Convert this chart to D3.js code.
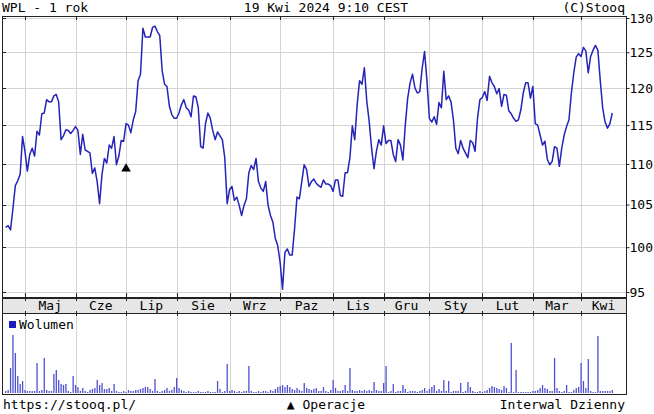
<!DOCTYPE html>
<html>
<head>
<meta charset="utf-8">
<script src="https://cdn.jsdelivr.net/npm/d3@7"></script>
<style>
  body { margin: 0; background: #fff; }
  text { font-family: "DejaVu Sans Mono", monospace; font-size: 13px; fill: #000; }
</style>
</head>
<body>
<div id="app"></div>
<script>
// closing prices, one per trading day, 19 Apr 2023 .. 19 Apr 2024
const prices = [
  102.3, 102.5, 102.0, 104.5, 107.3, 107.9, 108.7, 113.5, 111.6, 109.1,
  111.2, 112.0, 111.0, 114.2, 113.7, 116.5, 116.6, 118.4, 118.1, 118.1,
  118.9, 119.1, 118.1, 113.1, 113.6, 114.4, 114.3, 113.9, 114.3, 114.8,
  114.3, 111.2, 113.8, 111.8, 111.6, 111.4, 108.8, 109.5, 107.8, 105.1,
  108.7, 110.7, 110.1, 112.4, 112.0, 113.5, 109.9, 111.0, 113.0, 112.9,
  115.2, 115.0, 114.0, 115.7, 116.8, 121.0, 121.9, 128.5, 127.2, 127.2,
  127.2, 128.6, 128.8, 128.0, 127.4, 122.4, 120.5, 120.2, 117.5, 116.4,
  115.9, 115.9, 116.6, 117.7, 118.4, 117.3, 117.0, 116.1, 118.9, 118.8,
  117.3, 112.2, 112.0, 115.2, 116.6, 115.9, 114.3, 113.1, 114.1, 113.6,
  113.1, 110.8, 105.1, 106.8, 107.2, 105.5, 105.9, 104.9, 103.7, 104.9,
  105.7, 108.9, 109.8, 109.3, 110.7, 107.8, 107.0, 106.6, 107.8, 104.9,
  103.7, 102.9, 101.0, 100.2, 98.3, 95.3, 99.4, 99.8, 99.1, 99.1,
  102.1, 105.9, 105.7, 107.8, 109.9, 109.3, 107.2, 107.8, 108.1, 107.6,
  107.3, 107.1, 108.0, 107.5, 107.5, 107.3, 106.6, 108.0, 108.0, 106.1,
  106.0, 108.9, 108.9, 110.8, 114.9, 113.1, 117.7, 121.0, 120.5, 122.8,
  118.2, 115.5, 112.0, 109.4, 111.6, 113.1, 112.4, 114.9, 112.6, 113.0,
  113.0, 111.2, 110.3, 113.1, 112.4, 110.5, 115.0, 118.6, 120.7, 121.9,
  120.0, 119.3, 119.5, 122.7, 125.1, 121.0, 115.9, 115.4, 116.1, 115.1,
  118.0, 117.3, 122.3, 118.4, 118.9, 118.1, 115.7, 112.0, 111.3, 113.0,
  112.0, 111.4, 110.8, 113.0, 112.7, 111.6, 115.9, 118.4, 118.7, 119.5,
  118.3, 121.6, 120.7, 120.2, 119.2, 119.9, 117.5, 119.1, 119.0, 116.9,
  116.5, 115.9, 115.5, 115.7, 117.0, 119.3, 120.7, 120.7, 118.6, 120.2,
  115.2, 115.0, 113.7, 112.4, 112.9, 110.6, 109.9, 110.3, 112.2, 112.0,
  109.7, 112.0, 113.7, 114.8, 115.7, 119.3, 122.1, 124.3, 124.8, 124.4,
  125.7, 125.2, 122.1, 124.4, 125.3, 126.0, 125.3, 121.0, 117.3, 115.4,
  114.6, 115.2, 116.6
];

// daily volume (thous. shares)
const volumes = [
  2, 3, 25, 58, 40, 17, 9, 12, 3, 2,
  2, 2, 2, 30, 2, 3, 35, 3, 2, 2,
  19, 23, 13, 9, 8, 9, 2, 1, 17, 8,
  6, 2, 5, 2, 1, 3, 4, 5, 13, 8,
  10, 4, 4, 5, 2, 9, 2, 1, 1, 2,
  1, 3, 2, 2, 3, 3, 4, 5, 6, 6,
  4, 2, 14, 2, 1, 2, 3, 5, 2, 3,
  6, 15, 5, 3, 2, 1, 2, 1, 1, 1,
  2, 1, 1, 1, 2, 1, 1, 1, 12, 4,
  1, 2, 29, 2, 3, 2, 1, 2, 1, 2,
  2, 27, 2, 1, 1, 2, 1, 2, 2, 1,
  3, 2, 4, 6, 7, 8, 6, 8, 6, 4,
  3, 5, 3, 2, 10, 5, 4, 3, 4, 5,
  2, 2, 6, 2, 1, 3, 13, 5, 2, 2,
  3, 8, 2, 25, 3, 2, 2, 3, 2, 3,
  2, 3, 2, 11, 3, 2, 2, 10, 27, 1,
  2, 9, 1, 2, 2, 8, 4, 1, 2, 2,
  2, 1, 2, 3, 5, 2, 4, 6, 8, 2,
  4, 2, 13, 2, 12, 1, 2, 2, 2, 10,
  1, 2, 11, 6, 2, 1, 1, 2, 1, 2,
  3, 5, 7, 6, 5, 4, 3, 7, 5, 1,
  50, 1, 23, 1, 1, 1, 1, 1, 1, 2,
  2, 3, 5, 8, 5, 4, 2, 2, 35, 5,
  2, 1, 2, 8, 1, 1, 3, 5, 6, 30,
  12, 5, 34, 2, 1, 1, 57, 2, 2, 2,
  2, 2, 3
];

const monthNames = ['Maj', 'Cze', 'Lip', 'Sie', 'Wrz', 'Paz', 'Lis', 'Gru', 'Sty', 'Lut', 'Mar', 'Kwi'];
// trading-day index where each month starts
const monthStarts = [8, 29, 50, 71, 93, 114, 136, 157, 176, 198, 219, 239];
const priceTicks = [95, 100, 105, 110, 115, 120, 125, 130];
// corporate action markers
const operations = [{ day: 50, level: 109.4 }];

const width = 654;
const height = 414;

const main = { left: 2, right: 626, top: 16, bottom: 297 };
const band = { top: 298, bottom: 313 };
const vol = { top: 313, bottom: 394 };

const svg = d3.select('#app').append('svg')
  .attr('width', width).attr('height', height);

const x = d3.scaleLinear().domain([0, prices.length - 1]).range([5.7, 612.3]);
const y = d3.scaleLog().domain([95, 130]).range([292, 18]);
const yVol = d3.scaleLinear().domain([0, 80]).range([vol.bottom - 1, vol.top]);

const crisp = (v) => Math.round(v) + 0.5;

// grid
const grid = svg.append('g').attr('stroke', '#d4d4d4').attr('stroke-width', 1);
grid.selectAll('.h').data(priceTicks).join('line')
  .attr('x1', main.left).attr('x2', main.right)
  .attr('y1', (d) => crisp(y(d))).attr('y2', (d) => crisp(y(d)));
grid.selectAll('.v').data(monthStarts).join('line')
  .attr('x1', (d) => crisp(x(d))).attr('x2', (d) => crisp(x(d)))
  .attr('y1', main.top).attr('y2', main.bottom);
grid.selectAll('.vv').data(monthStarts).join('line')
  .attr('x1', (d) => crisp(x(d))).attr('x2', (d) => crisp(x(d)))
  .attr('y1', vol.top).attr('y2', vol.bottom);

// month band
svg.append('rect')
  .attr('x', main.left + 0.5).attr('y', band.top + 0.5)
  .attr('width', main.right - main.left).attr('height', band.bottom - band.top)
  .attr('fill', '#e6e6e6').attr('stroke', '#222');

svg.append('g').selectAll('text').data(monthNames).join('text')
  .attr('x', (d, i) => {
    const a = x(monthStarts[i]);
    const b = i < monthStarts.length - 1 ? x(monthStarts[i + 1]) : main.right;
    return (a + b) / 2;
  })
  .attr('y', 310)
  .attr('text-anchor', 'middle')
  .text((d) => d);

// frames
svg.append('rect')
  .attr('x', main.left + 0.5).attr('y', main.top + 0.5)
  .attr('width', main.right - main.left).attr('height', main.bottom - main.top)
  .attr('fill', 'none').attr('stroke', '#222');
svg.append('rect')
  .attr('x', main.left + 0.5).attr('y', vol.top + 0.5)
  .attr('width', main.right - main.left).attr('height', vol.bottom - vol.top)
  .attr('fill', 'none').attr('stroke', '#222');

// month tick marks on frames
const ticks = svg.append('g').attr('stroke', '#222');
monthStarts.forEach((d) => {
  const xx = crisp(x(d));
  ticks.append('line').attr('x1', xx).attr('x2', xx).attr('y1', main.top).attr('y2', main.top + 4);
  ticks.append('line').attr('x1', xx).attr('x2', xx).attr('y1', main.bottom - 4).attr('y2', band.top + 3);
  ticks.append('line').attr('x1', xx).attr('x2', xx).attr('y1', band.bottom - 2).attr('y2', band.bottom + 3);
});
priceTicks.forEach((d) => {
  const yy = crisp(y(d));
  ticks.append('line').attr('x1', main.left).attr('x2', main.left + 4).attr('y1', yy).attr('y2', yy);
});

// right price axis
const axis = svg.append('g')
  .attr('transform', `translate(${main.right + 0.5},0)`)
  .call(d3.axisRight(y).tickValues(priceTicks).tickSize(3).tickPadding(0).tickFormat(d3.format('d')));
axis.select('.domain').attr('stroke', '#222').attr('d', `M0,${main.top}V${main.bottom}`);
axis.selectAll('line').attr('stroke', '#222');
axis.selectAll('text')
  .attr('font-family', '"DejaVu Sans Mono", monospace')
  .attr('font-size', 13).attr('fill', '#000');

// price line
const line = d3.line()
  .x((d, i) => x(i))
  .y((d) => y(d));

svg.append('path')
  .attr('d', line(prices))
  .attr('fill', 'none')
  .attr('stroke', '#2424b8')
  .attr('stroke-width', 1.5)
  .attr('stroke-linejoin', 'round');

// operations
svg.append('g').selectAll('path').data(operations).join('path')
  .attr('d', d3.symbol(d3.symbolTriangle, 40))
  .attr('transform', (d) => `translate(${x(d.day)},${y(d.level)})`)
  .attr('fill', '#000');

// volume bars
svg.append('g').selectAll('rect').data(volumes).join('rect')
  .attr('x', (d, i) => x(i) - 0.6)
  .attr('width', 1.3)
  .attr('y', (d) => yVol(d))
  .attr('height', (d) => yVol(0) - yVol(d))
  .attr('fill', '#5050d4');

svg.append('rect')
  .attr('x', 9).attr('y', 321).attr('width', 7).attr('height', 7)
  .attr('fill', '#1c1cc0');
svg.append('text').attr('x', 19).attr('y', 329).text('Wolumen');

// header and footer
svg.append('text').attr('x', 2).attr('y', 12).text('WPL - 1 rok');
svg.append('text').attr('x', 326).attr('y', 12).attr('text-anchor', 'middle').text('19 Kwi 2024 9:10 CEST');
svg.append('text').attr('x', 625).attr('y', 12).attr('text-anchor', 'end').text('(C)Stooq');

svg.append('text').attr('x', 3).attr('y', 409).text('https://stooq.pl/');
svg.append('text').attr('x', 326).attr('y', 409).attr('text-anchor', 'middle').text('▲ Operacje');
svg.append('text').attr('x', 625).attr('y', 409).attr('text-anchor', 'end').text('Interwal Dzienny');
</script>
</body>
</html>
